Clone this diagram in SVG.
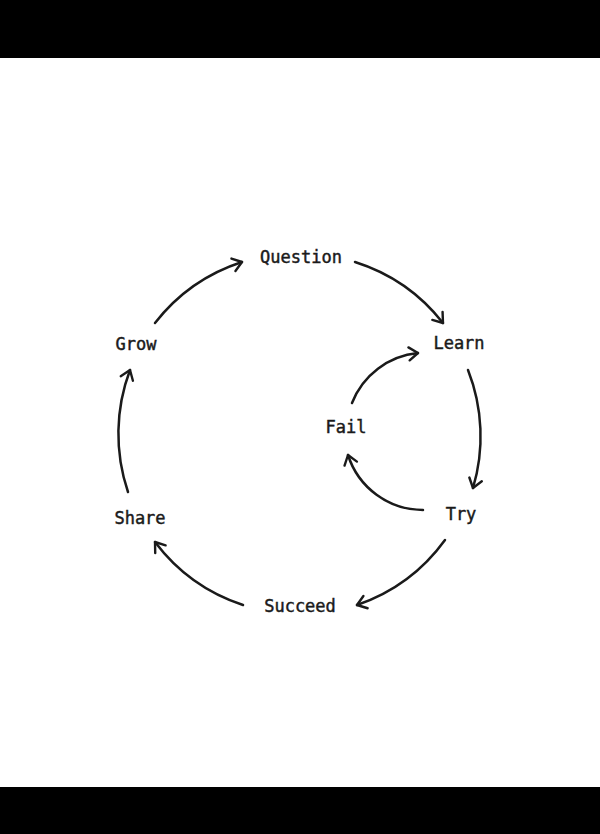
<svg xmlns="http://www.w3.org/2000/svg" width="600" height="834" viewBox="0 0 600 834">
  <style>
    .bar { fill: #000; }
    .lbl { font-family: "DejaVu Sans Mono", "Liberation Mono", monospace; font-size: 17px; font-weight: normal; fill: #1a1a1a; stroke: #1a1a1a; stroke-width: 0.45; text-anchor: middle; dominant-baseline: central; }
    .arc { fill: none; stroke: #1a1a1a; stroke-width: 2.5; stroke-linecap: round; marker-end: url(#head); }
  </style>
  <defs>
    <marker id="head" markerUnits="userSpaceOnUse" markerWidth="24" markerHeight="24" refX="12" refY="12" orient="auto" viewBox="0 0 24 24">
      <path d="M3,5.5 L12,12 L3,18.5" fill="none" stroke="#1a1a1a" stroke-width="2.4" stroke-linecap="round" stroke-linejoin="round"/>
    </marker>
  </defs>
  <rect width="600" height="834" fill="#fff"/>
  <rect class="bar" x="0" y="0" width="600" height="58"/>
  <rect class="bar" x="0" y="787" width="600" height="47"/>
  <g id="connectors">
    <path id="grow-question" class="arc" d="M155,323 A181,181 0 0 1 242,262"/>
    <path id="question-learn" class="arc" d="M355,262 A181,181 0 0 1 443,323"/>
    <path id="learn-try" class="arc" d="M468,370 A181,181 0 0 1 473,488"/>
    <path id="try-succeed" class="arc" d="M445,540 A181,181 0 0 1 357,605"/>
    <path id="succeed-share" class="arc" d="M243,605 A181,181 0 0 1 155,542"/>
    <path id="share-grow" class="arc" d="M128,492 A181,181 0 0 1 130,370"/>
    <path id="fail-learn" class="arc" d="M352,403 A79,79 0 0 1 418,353"/>
    <path id="try-fail" class="arc" d="M423,510 A79,79 0 0 1 348,455"/>
  </g>
  <g id="question"><text class="lbl" x="301" y="257">Question</text></g>
  <g id="learn"><text class="lbl" x="459" y="343">Learn</text></g>
  <g id="try"><text class="lbl" x="461" y="514">Try</text></g>
  <g id="fail"><text class="lbl" x="346" y="427">Fail</text></g>
  <g id="succeed"><text class="lbl" x="300" y="606">Succeed</text></g>
  <g id="share"><text class="lbl" x="140" y="518">Share</text></g>
  <g id="grow"><text class="lbl" x="136" y="344">Grow</text></g>
</svg>
